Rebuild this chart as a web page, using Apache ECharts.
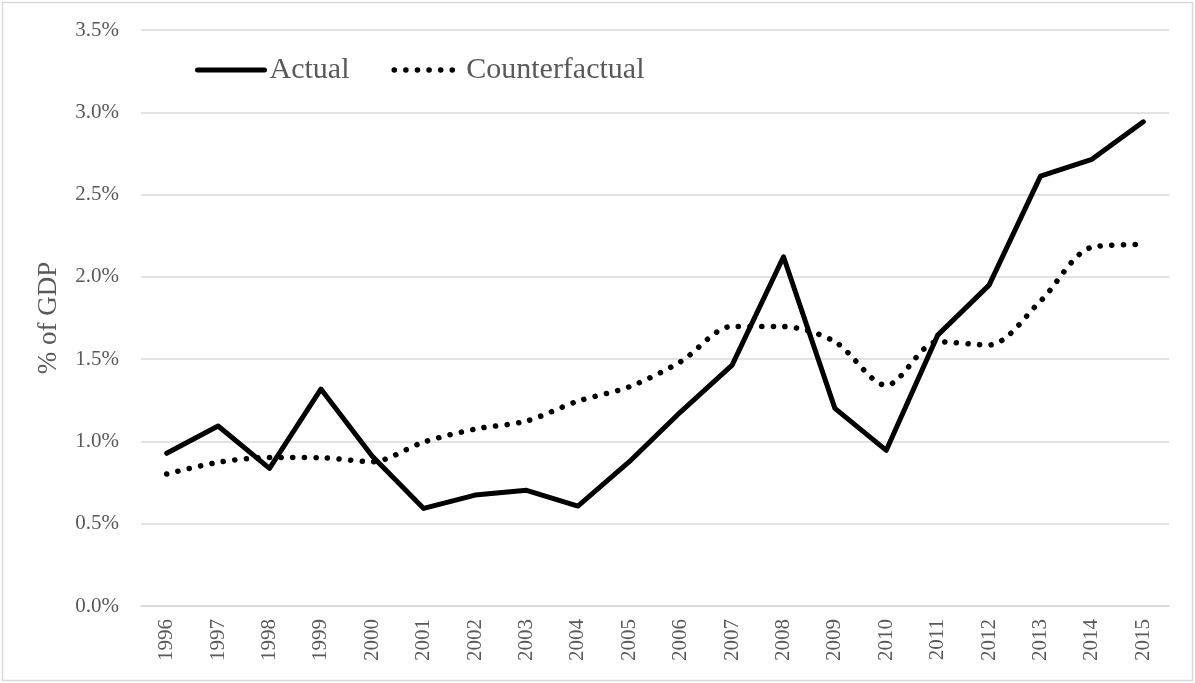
<!DOCTYPE html>
<html>
<head>
<meta charset="utf-8">
<script src="https://cdn.jsdelivr.net/npm/echarts@6/dist/echarts.min.js"></script>
<style>
html,body{margin:0;padding:0;background:#fff;}
#chart{width:1195px;height:683px;}
</style>
</head>
<body>
<div id="chart"></div>
<script>
const years = ['1996','1997','1998','1999','2000','2001','2002','2003','2004','2005','2006','2007','2008','2009','2010','2011','2012','2013','2014','2015'];
const actual = [0.928,1.094,0.836,1.318,0.91,0.593,0.674,0.703,0.607,0.877,1.18,1.464,2.122,1.201,0.946,1.646,1.950,2.612,2.714,2.942];
const counterfactual = [0.802,0.873,0.903,0.901,0.877,0.996,1.075,1.124,1.245,1.332,1.485,1.699,1.698,1.606,1.341,1.606,1.586,1.853,2.180,2.197];
const yTicks = [0, 0.5, 1.0, 1.5, 2.0, 2.5, 3.0, 3.5];

const font = '"Liberation Serif", "Times New Roman", serif';
const textColor = '#595959';
const chart = echarts.init(document.getElementById('chart'));
chart.setOption({
  animation: false,
  backgroundColor: '#fff',
  graphic: [{
    type: 'rect',
    shape: {x: 2.5, y: 2.5, width: 1190, height: 678},
    style: {fill: 'none', stroke: '#d9d9d9', lineWidth: 1.5}
  }],
  grid: {left: 141, right: 26, top: 30, bottom: 77, containLabel: false},
  legend: {
    left: 190, top: 50,
    itemWidth: 67, itemHeight: 14, itemGap: 42,
    itemStyle: {opacity: 0},
    textStyle: {fontFamily: font, fontSize: 30, color: textColor},
    data: [
      {name: 'Actual', lineStyle: {width: 5, color: '#000', cap: 'round'}},
      {name: 'Counterfactual', lineStyle: {width: 5.5, color: '#000', type: [0.1, 11.5], cap: 'round'}}
    ]
  },
  xAxis: {
    type: 'category',
    data: years,
    boundaryGap: true,
    axisLine: {show: true, lineStyle: {color: '#d9d9d9', width: 1.5}},
    axisTick: {show: false},
    axisLabel: {rotate: 90, margin: 13, fontFamily: font, fontSize: 21, color: textColor}
  },
  yAxis: {
    type: 'value',
    min: yTicks[0], max: yTicks[yTicks.length - 1], interval: 0.5,
    name: '% of GDP', nameLocation: 'middle', nameRotate: 90, nameGap: 79,
    nameTextStyle: {fontFamily: font, fontSize: 27, color: textColor},
    axisLine: {show: false},
    axisTick: {show: false},
    splitLine: {lineStyle: {color: '#d9d9d9', width: 1.5}},
    axisLabel: {margin: 22, fontFamily: font, fontSize: 21, color: textColor,
      formatter: v => v.toFixed(1) + '%'}
  },
  series: [{
    name: 'Actual', type: 'line', data: actual,
    symbol: 'none', color: '#000',
    lineStyle: {color: '#000', width: 5, join: 'round', cap: 'round'}
  }, {
    name: 'Counterfactual', type: 'line', data: counterfactual,
    symbol: 'none', smooth: 0.3, color: '#000',
    lineStyle: {color: '#000', width: 5.5, type: [0.1, 11.5], cap: 'round'}
  }]
});
</script>
</body>
</html>
